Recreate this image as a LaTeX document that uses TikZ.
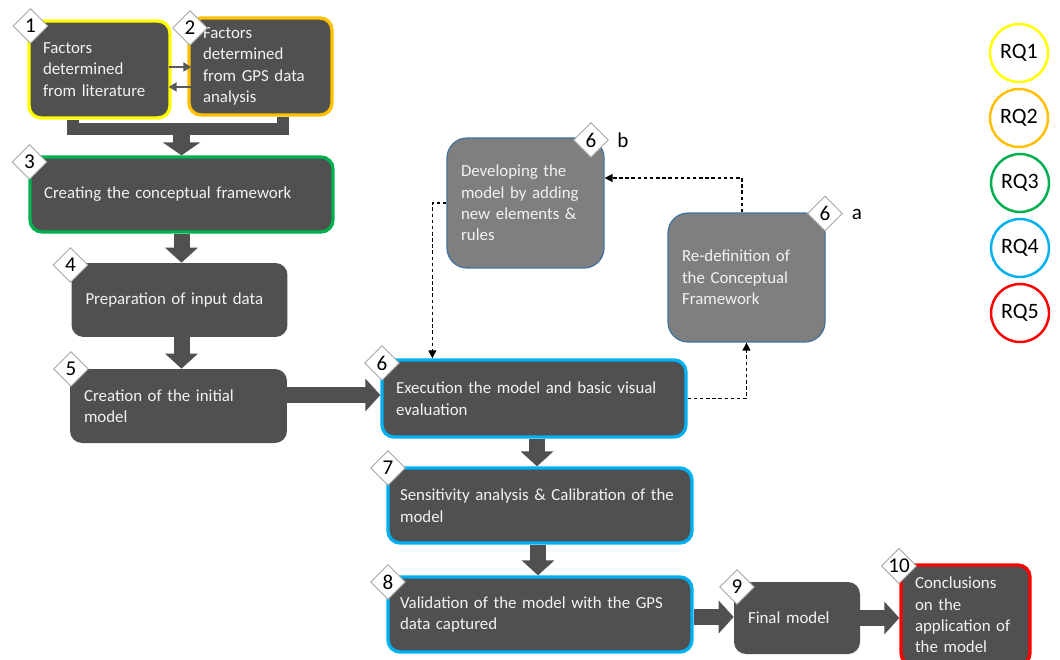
\documentclass[tikz,border=0pt]{standalone}
\usepackage{fontspec}
\setmainfont{Carlito}
\usetikzlibrary{shapes.geometric,arrows.meta,calc}

\definecolor{boxgray}{HTML}{505050}
\definecolor{midgray}{HTML}{7F7F7F}
\definecolor{edgeblue}{HTML}{41719C}
\definecolor{boxtext}{HTML}{F2F2F2}
\definecolor{rqone}{HTML}{FFFF00}
\definecolor{rqtwo}{HTML}{FFC000}
\definecolor{rqthree}{HTML}{00B050}
\definecolor{rqfour}{HTML}{00B0F0}
\definecolor{rqfive}{HTML}{FF0000}
\definecolor{tagedge}{HTML}{A6A6A6}
\definecolor{thinarrow}{HTML}{595959}

\pgfdeclarelayer{bg}
\pgfsetlayers{bg,main}

\begin{document}
\begin{tikzpicture}[x=0.02cm, y=-0.02cm,
  stepbox/.style={rectangle, rounded corners=0.24cm, fill=boxgray, text=boxtext,
    align=left, inner xsep=0.28cm, inner ysep=0pt,
    font=\fontsize{9.6}{12.2}\selectfont},
  rqedge/.style={draw=#1, line width=1.9pt},
  loopbox/.style={stepbox, fill=midgray, draw=edgeblue, line width=0.7pt,
    rounded corners=0.4cm},
  tag/.style={diamond, aspect=1, draw=tagedge, line width=0.5pt, fill=white,
    minimum size=0.7cm, inner sep=0pt, font=\fontsize{12}{12}\selectfont},
  sidelabel/.style={font=\fontsize{12}{12}\selectfont, inner sep=0pt},
  rq/.style={circle, draw=#1, line width=1.4pt, minimum size=1.16cm, inner sep=0pt,
    font=\fontsize{12.5}{12.5}\selectfont},
  flow/.style={draw=boxgray, line width=0.32cm,
    -{Triangle[length=0.3cm,width=0.64cm]}},
  mergebar/.style={draw=boxgray, line width=0.24cm},
  swaparrow/.style={draw=thinarrow, line width=1.2pt,
    -{Triangle[length=4.5pt,width=5pt]}},
  dashflow/.style={draw=black, line width=0.6pt, dash pattern=on 2pt off 1.5pt,
    -{Triangle[length=4.5pt,width=4.5pt]}}
]

\begin{pgfonlayer}{bg}
  \fill[white] (0,0) rectangle (1060,659);
\end{pgfonlayer}
\useasboundingbox (0,0) rectangle (1060,659);

% process steps
\node[stepbox, rqedge=rqone, minimum width=2.82cm, minimum height=1.94cm, text width=2.26cm]
  (b1) at (99.5,69.5) {Factors\\determined\\from literature};
\node[stepbox, rqedge=rqtwo, minimum width=2.86cm, minimum height=1.94cm, text width=2.30cm]
  (b2) at (260.5,66.5) {Factors\\determined\\from GPS data\\analysis};
\node[stepbox, rqedge=rqthree, minimum width=6.06cm, minimum height=1.5cm, text width=5.5cm]
  (b3) at (181.5,194.5) {Creating the conceptual framework};
\node[stepbox, minimum width=4.32cm, minimum height=1.48cm, text width=3.76cm]
  (b4) at (179.5,300) {Preparation of input data};
\node[stepbox, minimum width=4.34cm, minimum height=1.48cm, text width=3.78cm]
  (b5) at (178.5,406) {Creation of the initial\\model};
\node[stepbox, rqedge=rqfour, minimum width=6.08cm, minimum height=1.54cm, text width=5.52cm]
  (b6) at (534,398.5) {Execution the model and basic visual\\evaluation};
\node[loopbox, minimum width=3.14cm, minimum height=2.6cm, text width=2.58cm]
  (b6b) at (525.5,203) {Developing the\\model by adding\\new elements \&\\rules};
\node[loopbox, minimum width=3.14cm, minimum height=2.58cm, text width=2.58cm]
  (b6a) at (746.5,277.5) {Re-definition of\\the Conceptual\\Framework};
\node[stepbox, rqedge=rqfour, inner xsep=0.24cm, minimum width=6.08cm, minimum height=1.5cm, text width=5.6cm]
  (b7) at (540,505.5) {Sensitivity analysis \& Calibration of the\\model};
\node[stepbox, rqedge=rqfour, inner xsep=0.24cm, minimum width=6.08cm, minimum height=1.5cm, text width=5.6cm]
  (b8) at (540,614.5) {Validation of the model with the GPS\\data captured};
\node[stepbox, minimum width=2.52cm, minimum height=1.44cm, text width=1.96cm]
  (b9) at (797,618) {Final model};
\node[stepbox, rqedge=rqfive, minimum width=2.58cm, minimum height=2.0cm, text width=2.02cm]
  (b10) at (965.5,615) {Conclusions\\on the\\application of\\the model};

% two-way exchange between steps 1 and 2, drawn over the box edges
\draw[swaparrow] ([xshift=-0.06cm,yshift=0.05cm]b1.east) -- ([xshift=0.08cm,yshift=0.05cm]b1.east -| b2.west);
\draw[swaparrow] ([xshift=0.08cm,yshift=-0.35cm]b1.east -| b2.west) -- ([xshift=-0.06cm,yshift=-0.35cm]b1.east);

% step numbers
\node[tag] (t1) at (30.5,26) {1};
\node[tag] (t2) at (190,28) {2};
\node[tag] (t3) at (29.5,162) {3};
\node[tag] (t4) at (70.5,265) {4};
\node[tag] (t5) at (71,369) {5};
\node[tag] (t6) at (382,363) {6};
\node[tag] (t6b) at (591,140) {6};
\node[tag] (t6a) at (825,213.5) {6};
\node[tag] (t7) at (388,468) {7};
\node[tag] (t8) at (388,582) {8};
\node[tag] (t9) at (737,587) {9};
\node[tag] (t10) at (899,566) {10};
\node[sidelabel] (lb) at (623,140) {b};
\node[sidelabel] (la) at (857,214) {a};

% research questions
\node[rq=rqone]   (q1) at (1019,53)  {RQ1};
\node[rq=rqtwo]   (q2) at (1019,118) {RQ2};
\node[rq=rqthree] (q3) at (1020,183) {RQ3};
\node[rq=rqfour]  (q4) at (1020,248) {RQ4};
\node[rq=rqfive]  (q5) at (1020,313) {RQ5};

% connectors
\begin{pgfonlayer}{bg}
  \coordinate (mj) at (181.5,129);
  \draw[mergebar] ([xshift=0.92cm]b1.south west) |- (mj) -| ([xshift=-1.02cm]b2.south east);
  \draw[flow, line width=0.34cm, -{Triangle[length=0.26cm,width=0.74cm]}] (mj) -- (mj |- b3.north);
  \draw[flow] (b3.south -| mj) -- (mj |- b4.north);
  \draw[flow] ([xshift=0.04cm]b4.south) -- ([xshift=0.04cm]b4.south |- b5.north);
  \draw[flow] ([yshift=0.22cm]b5.east) -- ([yshift=0.22cm]b5.east -| b6.west);
  \draw[flow] ([xshift=0.06cm]b6.south) -- ([xshift=0.06cm]b6.south |- b7.north);
  \draw[flow] ([xshift=-0.04cm]b7.south) -- ([xshift=-0.04cm]b7.south |- b8.north);
  \draw[flow] ([yshift=-0.05cm]b8.east) -- ([yshift=-0.05cm]b8.east -| b9.west);
  \draw[flow] (b9.east) -- (b9.east -| b10.west);
  \draw[dashflow] (b6.east) -| (b6a.south);
  \draw[dashflow] ([xshift=-0.09cm]b6a.north) |- ([yshift=0.5cm]b6b.east);
  \draw[dashflow] (b6b.west) -| ([xshift=1.04cm]b6.north west);
\end{pgfonlayer}

\end{tikzpicture}
\end{document}
